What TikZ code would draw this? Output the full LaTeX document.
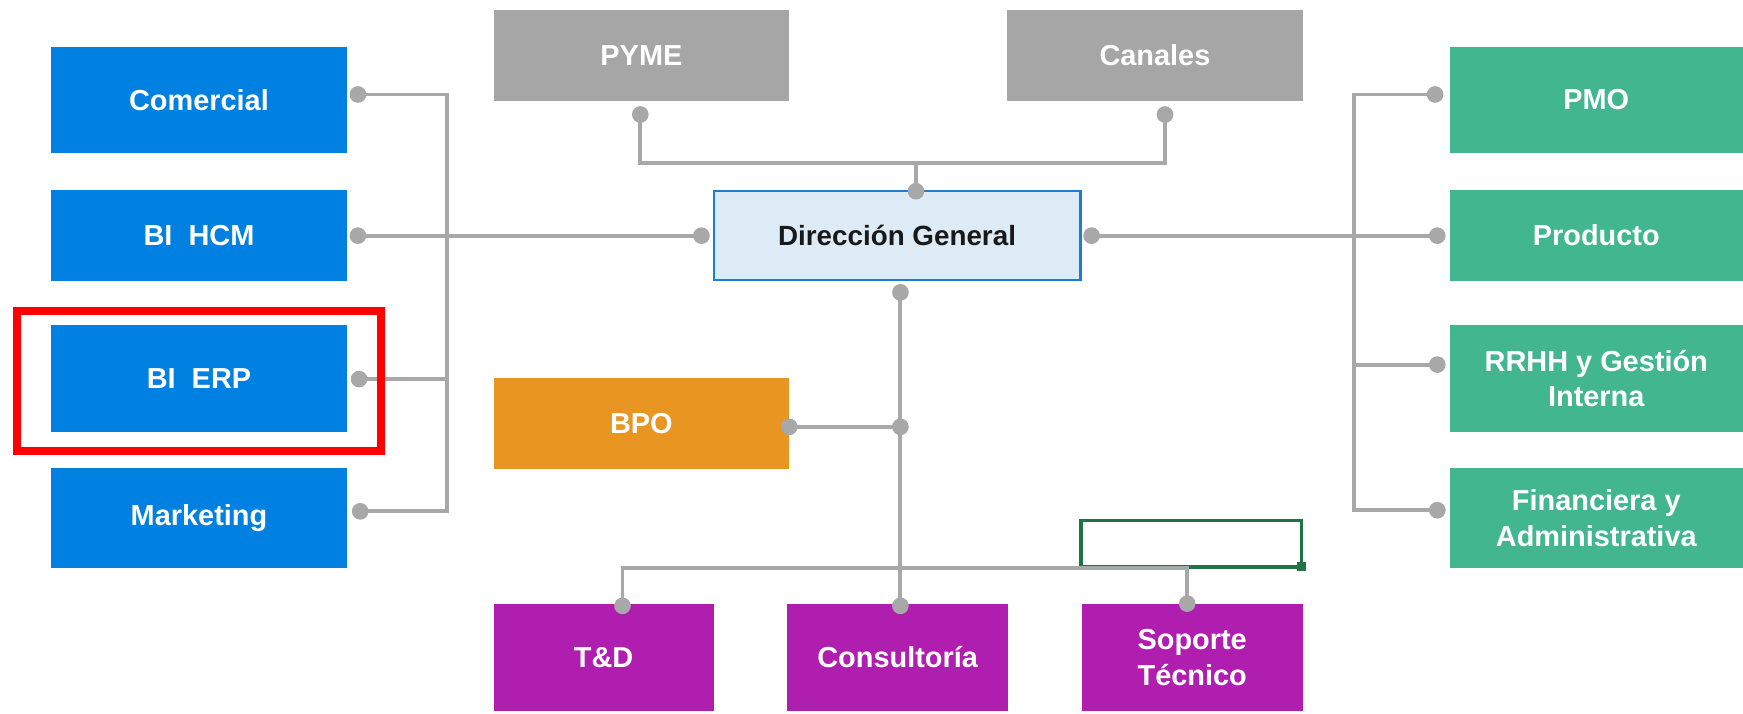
\documentclass[tikz,border=0pt]{standalone}
\usepackage{fontspec}
\setmainfont{Liberation Sans}
\definecolor{boxblue}{RGB}{0,128,224}
\definecolor{boxgrey}{RGB}{166,166,166}
\definecolor{boxgreen}{RGB}{65,182,143}
\definecolor{boxpurple}{RGB}{176,30,175}
\definecolor{boxorange}{RGB}{232,150,33}
\definecolor{connc}{RGB}{168,168,168}
\definecolor{dgfill}{RGB}{221,235,247}
\definecolor{dgline}{RGB}{30,124,210}
\definecolor{selgreen}{RGB}{33,115,70}
\tikzset{
  unitbox/.style={draw=none, inner sep=0pt, align=center, text=white,
    font=\bfseries\fontsize{26}{32}\selectfont, minimum width=266pt},
  bluebox/.style={unitbox, fill=boxblue},
  greybox/.style={unitbox, fill=boxgrey, minimum height=82pt},
  greenbox/.style={unitbox, fill=boxgreen, minimum width=264pt},
  purplebox/.style={unitbox, fill=boxpurple, minimum width=199pt, minimum height=97pt},
  orangebox/.style={unitbox, fill=boxorange, minimum height=82pt},
  dgbox/.style={draw=dgline, line width=2pt, fill=dgfill, inner sep=0pt,
    minimum width=330pt, minimum height=80pt, text=black!90,
    font=\bfseries\fontsize{25}{30}\selectfont},
  conn/.style={draw=connc, line width=3.5pt},
  dot/.style={circle, fill=connc, inner sep=0pt, minimum size=15pt},
  redframe/.style={draw=red, line width=7pt},
  selframe/.style={draw=selgreen, line width=3pt},
  handle/.style={fill=selgreen, inner sep=0pt, minimum size=8pt},
}
\begin{document}
\begin{tikzpicture}[x=1pt,y=-1pt]
\useasboundingbox (0,0) rectangle (1568,642.3);
% left boxes
\node[bluebox, minimum height=96pt] (comercial) at (179,90) {Comercial};
\node[bluebox, minimum height=82pt] (bihcm) at (179,212) {BI\ \ HCM};
\node[bluebox, minimum height=97pt] (bierp) at (179,340.5) {BI\ \ ERP};
\node[bluebox, minimum height=90pt] (marketing) at (179,466) {Marketing};
% top boxes
\node[greybox] (pyme) at (577,50) {PYME};
\node[greybox] (canales) at (1039,50) {Canales};
% centre
\node[dgbox] (dg) at (807,212) {Dirección General};
\node[orangebox] (bpo) at (577,381) {BPO};
% bottom boxes
\node[purplebox, minimum width=198pt] (td) at (543,591.5) {T\&D};
\node[purplebox] (consult) at (807.5,591.5) {Consultoría};
\node[purplebox] (soporte) at (1072.5,591.5) {Soporte\\Técnico};
% right boxes
\node[greenbox, minimum height=96pt] (pmo) at (1436,90) {PMO};
\node[greenbox, minimum height=82pt] (producto) at (1436,212) {Producto};
\node[greenbox, minimum height=97pt] (rrhh) at (1436,340.5) {RRHH y Gestión\\Interna};
\node[greenbox, minimum height=90pt] (financiera) at (1436,466) {Financiera y\\Administrativa};
% selection frame
\draw[selframe] (972.5,468.5) rectangle (1171,510);
\node[handle] (hnd) at (1171,510) {};
% dots
\node[dot] (dCom) at (322,85) {};
\node[dot] (dHcm) at (322,212) {};
\node[dot] (dErp) at (323,341) {};
\node[dot] (dMkt) at (324,460) {};
\node[dot] (dDgL) at (631,212) {};
\node[dot] (dDgR) at (982,212) {};
\node[dot] (dPmo) at (1291,85) {};
\node[dot] (dPro) at (1293,212) {};
\node[dot] (dRrh) at (1293,328) {};
\node[dot] (dFin) at (1293,459) {};
\node[dot] (dPy) at (576,103) {};
\node[dot] (dCa) at (1048,103) {};
\node[dot] (dDgT) at (824,172) {};
\node[dot] (dDgB) at (810,263) {};
\node[dot] (dJ) at (810,384) {};
\node[dot] (dBpo) at (710,384) {};
\node[dot] (dCon) at (810,545) {};
\node[dot] (dTd) at (560,545) {};
\node[dot] (dSop) at (1068,543) {};
\coordinate (busL) at (402,0);
\coordinate (busR) at (1218,0);
\coordinate (jTop) at (824,147);
\coordinate (jBot) at (810,511);
% connectors
\draw[conn] (dCom.center) -- (dCom.center -| busL) -- (dMkt.center -| busL) -- (dMkt.center);
\draw[conn] (dErp.center) -- (dErp.center -| busL);
\draw[conn] (dHcm.center) -- (dDgL.center);
\draw[conn] (dPmo.center) -- (dPmo.center -| busR) -- (dFin.center -| busR) -- (dFin.center);
\draw[conn] (dRrh.center) -- (dRrh.center -| busR);
\draw[conn] (dDgR.center) -- (dPro.center);
\draw[conn] (dPy.center) |- (jTop) -| (dCa.center);
\draw[conn] (jTop) -- (dDgT.center);
\draw[conn] (dDgB.center) -- (dCon.center);
\draw[conn] (dBpo.center) -- (dJ.center);
\draw[conn] (dTd.center) |- (jBot) -| (dSop.center);
% highlight frame
\draw[redframe] (15.5,279.5) rectangle (342.5,405.5);
\end{tikzpicture}
\end{document}
